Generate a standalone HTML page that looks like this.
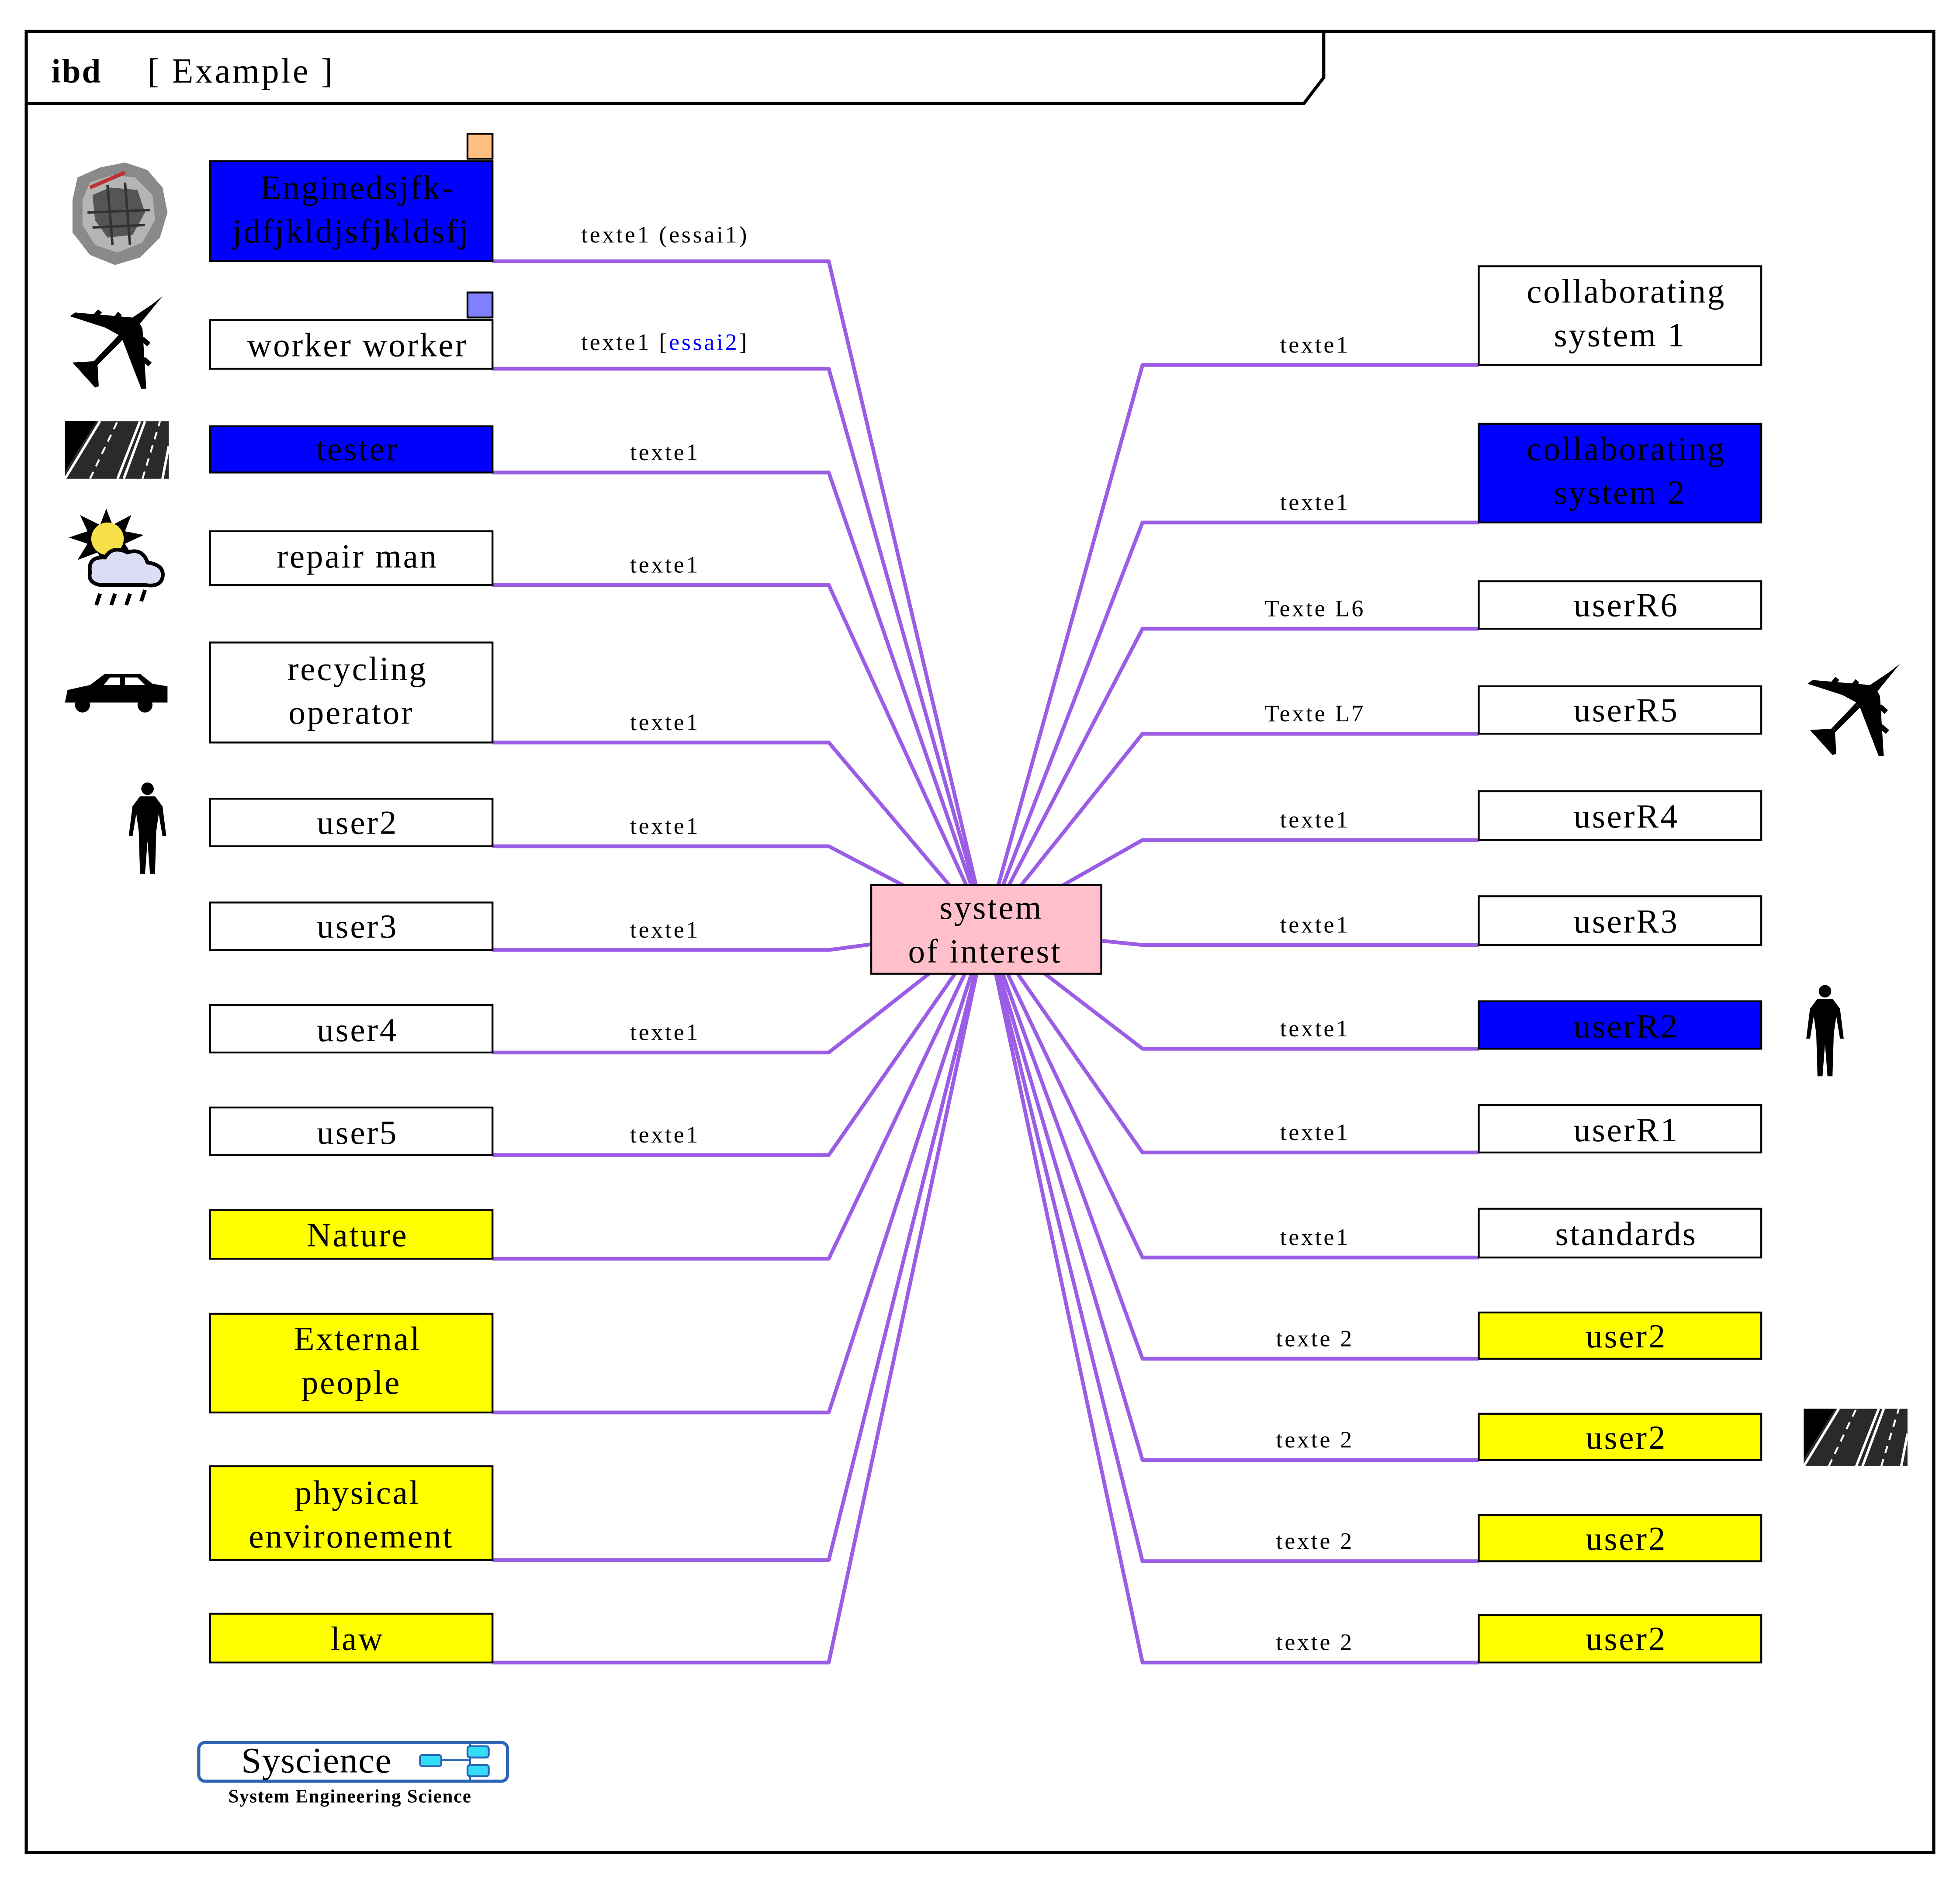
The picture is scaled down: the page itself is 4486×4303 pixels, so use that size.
<!DOCTYPE html>
<html><head><meta charset="utf-8"><style>
html,body{margin:0;padding:0;background:#fff;}
svg{display:block;}
.b{font-family:"Liberation Serif",serif;font-size:27px;fill:#000;text-anchor:middle;letter-spacing:1.3px;}
.l{font-family:"Liberation Serif",serif;font-size:19px;fill:#000;text-anchor:middle;letter-spacing:1.6px;}
.c{stroke:#9b5de5;stroke-width:3;fill:none;stroke-linejoin:round;}
.bx{stroke:#000;stroke-width:1.5;}
</style></head><body>
<svg width="4486" height="4303" viewBox="0 0 1568 1504" preserveAspectRatio="none" xmlns="http://www.w3.org/2000/svg">
<defs>
<g id="plane"><path d="M86,11 L77,18 L62,28 L16,24 L12,27 L40,36 L51,42 L31,63 L14,64 L32,84 L35,83 L34,66 L54,46 L69,85 L73,85 L70,37 L68,33 Z" fill="#000"/>
<rect x="32" y="22" width="4" height="7" transform="rotate(40 34 25)"/><rect x="48" y="24" width="4" height="7" transform="rotate(40 50 27)"/>
<rect x="69" y="45" width="7" height="4" transform="rotate(40 72 47)"/><rect x="70" y="61" width="7" height="4" transform="rotate(40 73 63)"/></g>
<g id="road"><rect x="0" y="0" width="83" height="46" fill="#2a2a2a"/><path d="M0,46 L28,0" stroke="#fff" stroke-width="2"/><path d="M42,46 L60,0 M47,46 L64,0" stroke="#fff" stroke-width="2"/><path d="M78,46 L83,20" stroke="#fff" stroke-width="2"/><path d="M20,46 L42,0 M62,46 L76,0" stroke="#fff" stroke-width="1.5" stroke-dasharray="6,5"/><path d="M0,0 L25,0 L0,40Z" fill="#000"/></g>
<g id="person"><circle cx="15" cy="6" r="5"/><path d="M9,12 L21,12 L27,20 L30,44 L27,44 L24,26 L22,40 L21,74 L17,74 L15,48 L13,74 L9,74 L8,40 L6,26 L3,44 L0,44 L3,20 Z"/></g>
</defs>
<rect x="21" y="25" width="1526" height="1457" fill="none" stroke="#000" stroke-width="2.5"/>
<path d="M21,83 L1043,83 L1059,62 L1059,25" fill="none" stroke="#000" stroke-width="2.5"/>
<text x="41" y="66" style="font-family:'Liberation Serif',serif;font-size:27px;font-weight:bold;letter-spacing:1px">ibd</text>
<text x="118" y="66" style="font-family:'Liberation Serif',serif;font-size:28px;letter-spacing:1.6px">[ Example ]</text>

<g class="c">
<polyline points="394,209 663,209 789,743"/>
<polyline points="394,295 663,295 789,743"/>
<polyline points="394,378 663,378 789,743"/>
<polyline points="394,468 663,468 789,743"/>
<polyline points="394,594 663,594 789,743"/>
<polyline points="394,677 663,677 789,743"/>
<polyline points="394,760 663,760 789,743"/>
<polyline points="394,842 663,842 789,743"/>
<polyline points="394,924 663,924 789,743"/>
<polyline points="394,1007 663,1007 789,743"/>
<polyline points="394,1130 663,1130 789,743"/>
<polyline points="394,1248 663,1248 789,743"/>
<polyline points="394,1330 663,1330 789,743"/>
<polyline points="1183,292 914,292 789,743"/>
<polyline points="1183,418 914,418 789,743"/>
<polyline points="1183,503 914,503 789,743"/>
<polyline points="1183,587 914,587 789,743"/>
<polyline points="1183,672 914,672 789,743"/>
<polyline points="1183,756 914,756 789,743"/>
<polyline points="1183,839 914,839 789,743"/>
<polyline points="1183,922 914,922 789,743"/>
<polyline points="1183,1006 914,1006 789,743"/>
<polyline points="1183,1087 914,1087 789,743"/>
<polyline points="1183,1168 914,1168 789,743"/>
<polyline points="1183,1249 914,1249 789,743"/>
<polyline points="1183,1330 914,1330 789,743"/>
</g>

<text class="l" x="532" y="194">texte1 (essai1)</text>
<text class="l" x="532" y="280">texte1 [<tspan fill="#0000ff">essai2</tspan>]</text>
<text class="l" x="532" y="368">texte1</text>
<text class="l" x="532" y="458">texte1</text>
<text class="l" x="532" y="584">texte1</text>
<text class="l" x="532" y="667">texte1</text>
<text class="l" x="532" y="750">texte1</text>
<text class="l" x="532" y="832">texte1</text>
<text class="l" x="532" y="914">texte1</text>
<text class="l" x="1052" y="282">texte1</text>
<text class="l" x="1052" y="408">texte1</text>
<text class="l" x="1052" y="493">Texte L6</text>
<text class="l" x="1052" y="577">Texte L7</text>
<text class="l" x="1052" y="662">texte1</text>
<text class="l" x="1052" y="746">texte1</text>
<text class="l" x="1052" y="829">texte1</text>
<text class="l" x="1052" y="912">texte1</text>
<text class="l" x="1052" y="996">texte1</text>
<text class="l" x="1052" y="1077">texte 2</text>
<text class="l" x="1052" y="1158">texte 2</text>
<text class="l" x="1052" y="1239">texte 2</text>
<text class="l" x="1052" y="1320">texte 2</text>

<rect class="bx" x="374" y="107" width="20" height="20" fill="#ffbf80"/>
<rect class="bx" x="374" y="234" width="20" height="20" fill="#8080ff"/>
<rect class="bx" x="168" y="129" width="226" height="80" fill="#0000ff"/>
<text class="b" x="286" y="159">Enginedsjfk-</text><text class="b" x="281" y="194">jdfjkldjsfjkldsfj</text>
<rect class="bx" x="168" y="256" width="226" height="39" fill="#fff"/><text class="b" x="286" y="285">worker worker</text>
<rect class="bx" x="168" y="341" width="226" height="37" fill="#0000ff"/><text class="b" x="286" y="368">tester</text>
<rect class="bx" x="168" y="425" width="226" height="43" fill="#fff"/><text class="b" x="286" y="454">repair man</text>
<rect class="bx" x="168" y="514" width="226" height="80" fill="#fff"/><text class="b" x="286" y="544">recycling</text><text class="b" x="281" y="579">operator</text>
<rect class="bx" x="168" y="639" width="226" height="38" fill="#fff"/><text class="b" x="286" y="667">user2</text>
<rect class="bx" x="168" y="722" width="226" height="38" fill="#fff"/><text class="b" x="286" y="750">user3</text>
<rect class="bx" x="168" y="804" width="226" height="38" fill="#fff"/><text class="b" x="286" y="833">user4</text>
<rect class="bx" x="168" y="886" width="226" height="38" fill="#fff"/><text class="b" x="286" y="915">user5</text>
<rect class="bx" x="168" y="968" width="226" height="39" fill="#ffff00"/><text class="b" x="286" y="997">Nature</text>
<rect class="bx" x="168" y="1051" width="226" height="79" fill="#ffff00"/><text class="b" x="286" y="1080">External</text><text class="b" x="281" y="1115">people</text>
<rect class="bx" x="168" y="1173" width="226" height="75" fill="#ffff00"/><text class="b" x="286" y="1203">physical</text><text class="b" x="281" y="1238">environement</text>
<rect class="bx" x="168" y="1291" width="226" height="39" fill="#ffff00"/><text class="b" x="286" y="1320">law</text>

<rect class="bx" x="1183" y="213" width="226" height="79" fill="#fff"/><text class="b" x="1301" y="242">collaborating</text><text class="b" x="1296" y="277">system 1</text>
<rect class="bx" x="1183" y="339" width="226" height="79" fill="#0000ff"/><text class="b" x="1301" y="368">collaborating</text><text class="b" x="1296" y="403">system 2</text>
<rect class="bx" x="1183" y="465" width="226" height="38" fill="#fff"/><text class="b" x="1301" y="493">userR6</text>
<rect class="bx" x="1183" y="549" width="226" height="38" fill="#fff"/><text class="b" x="1301" y="577">userR5</text>
<rect class="bx" x="1183" y="633" width="226" height="39" fill="#fff"/><text class="b" x="1301" y="662">userR4</text>
<rect class="bx" x="1183" y="717" width="226" height="39" fill="#fff"/><text class="b" x="1301" y="746">userR3</text>
<rect class="bx" x="1183" y="801" width="226" height="38" fill="#0000ff"/><text class="b" x="1301" y="830">userR2</text>
<rect class="bx" x="1183" y="884" width="226" height="38" fill="#fff"/><text class="b" x="1301" y="913">userR1</text>
<rect class="bx" x="1183" y="967" width="226" height="39" fill="#fff"/><text class="b" x="1301" y="996">standards</text>
<rect class="bx" x="1183" y="1050" width="226" height="37" fill="#ffff00"/><text class="b" x="1301" y="1078">user2</text>
<rect class="bx" x="1183" y="1131" width="226" height="37" fill="#ffff00"/><text class="b" x="1301" y="1159">user2</text>
<rect class="bx" x="1183" y="1212" width="226" height="37" fill="#ffff00"/><text class="b" x="1301" y="1240">user2</text>
<rect class="bx" x="1183" y="1292" width="226" height="38" fill="#ffff00"/><text class="b" x="1301" y="1320">user2</text>

<rect class="bx" x="697" y="708" width="184" height="71" fill="#ffc0cb"/>
<text class="b" x="793" y="735">system</text><text class="b" x="788" y="770">of interest</text>

<g>
<path d="M58,160 L62,142 L80,134 L100,130 L118,136 L130,150 L134,170 L128,190 L112,206 L92,212 L72,204 L58,186 Z" fill="#8a8a8a"/>
<path d="M66,160 L72,146 L90,140 L108,142 L122,156 L124,176 L114,194 L94,202 L76,196 L66,180 Z" fill="#b5b5b5"/>
<path d="M74,156 L88,150 L110,152 L116,170 L106,188 L86,190 L76,176Z" fill="#555"/>
<path d="M72,150 L100,138" stroke="#b33" stroke-width="3"/>
<path d="M70,170 L120,168 M74,182 L116,180 M86,148 L90,196 M100,146 L104,196" stroke="#333" stroke-width="2"/>
</g>
<use href="#plane" transform="translate(44,226) scale(1.0)"/>
<use href="#road" transform="translate(52,337)"/>
<g>
<polygon points="85,407 90,420 105,412 100,425 115,428 100,435 108,448 92,442 85,455 78,442 62,448 70,435 55,430 70,425 64,412 80,420" fill="#000"/>
<circle cx="86" cy="431" r="13" fill="#f5e04a"/>
<path d="M72,458 Q70,445 84,446 Q90,436 102,442 Q114,438 118,450 Q132,452 130,462 Q128,470 116,468 L80,468 Q70,466 72,458Z" fill="#dcdcf4" stroke="#000" stroke-width="3"/>
<path d="M80,475 L77,484 M92,475 L89,484 M104,475 L101,484 M116,472 L113,481" stroke="#000" stroke-width="3"/>
</g>
<g fill="#000"><path d="M52,562 L54,552 L72,548 L84,539 L112,539 L122,547 L134,549 L134,562 Z"/><circle cx="66" cy="564" r="6"/><circle cx="116" cy="564" r="6"/><path d="M88,542 L96,542 L96,548 L83,548Z M100,542 L110,542 L116,548 L100,548Z" fill="#fff"/></g>
<use href="#person" transform="translate(103,625)"/>
<use href="#plane" transform="translate(1434,520) scale(1.0)"/>
<use href="#person" transform="translate(1445,787)"/>
<use href="#road" transform="translate(1443,1127)"/>

<rect x="159" y="1394" width="247" height="31" rx="5" fill="#fff" stroke="#2b65b5" stroke-width="2.5"/>
<text x="193" y="1418" style="font-family:'Liberation Serif',serif;font-size:29px;letter-spacing:0.5px">Syscience</text>
<line x1="376" y1="1394" x2="376" y2="1425" stroke="#2b65b5" stroke-width="1.5"/>
<rect x="336" y="1404" width="17" height="9" rx="2" fill="#33ddf8" stroke="#2b65b5" stroke-width="1.5"/>
<rect x="374" y="1397" width="17" height="9" rx="2" fill="#33ddf8" stroke="#2b65b5" stroke-width="1.5"/>
<rect x="374" y="1412" width="17" height="9" rx="2" fill="#33ddf8" stroke="#2b65b5" stroke-width="1.5"/>
<path d="M353,1408 L376,1408" stroke="#2b65b5" stroke-width="1.5"/>
<text x="280" y="1442" style="font-family:'Liberation Serif',serif;font-size:15px;font-weight:bold;text-anchor:middle;letter-spacing:0.6px">System Engineering Science</text>
</svg>
</body></html>
